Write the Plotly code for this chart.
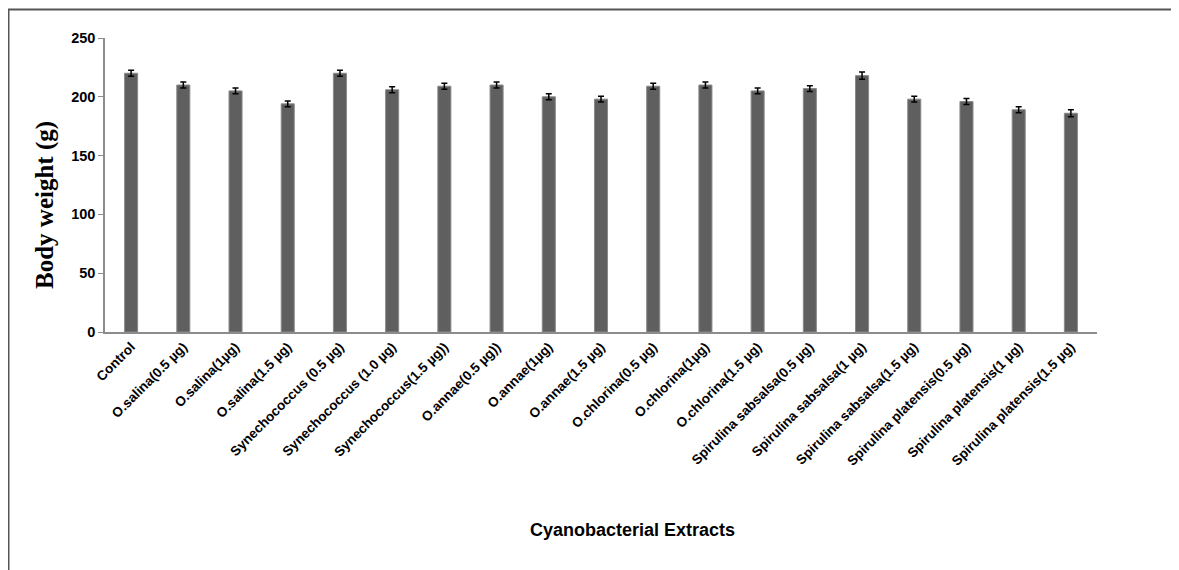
import plotly.graph_objects as go

categories = [
    "Control", "O.salina(0.5 µg)", "O.salina(1µg)", "O.salina(1.5 µg)",
    "Synechococcus (0.5 µg)", "Synechococcus (1.0 µg)", "Synechococcus(1.5 µg))",
    "O.annae(0.5 µg))", "O.annae(1µg)", "O.annae(1.5 µg)",
    "O.chlorina(0.5 µg)", "O.chlorina(1µg)", "O.chlorina(1.5 µg)",
    "Spirulina sabsalsa(0.5 µg)", "Spirulina sabsalsa(1 µg)", "Spirulina sabsalsa(1.5 µg)",
    "Spirulina platensis(0.5 µg)", "Spirulina platensis(1 µg)", "Spirulina platensis(1.5 µg)",
]
body_weight = [220, 210, 205, 194, 220, 206, 209, 210, 200, 198,
               209, 210, 205, 207, 218, 198, 196, 189, 186]
errors = [2.5, 2.5, 2.5, 2.5, 2.5, 2.5, 2.5, 2.5, 2.5, 2.5,
          2.5, 2.5, 2.5, 2.5, 3, 2.5, 2.5, 2.5, 3]
y_ticks = [0, 50, 100, 150, 200, 250]

OFF = 8  # page body margin
W, H = 1179 - OFF, 570 - OFF
# plot area in page pixels: x 105..1097, y 38..332
L, R, T, B = 105 - OFF, 1179 - 1097, 38 - OFF, 570 - 332
pw, ph = W - L - R, H - T - B

def px(x):  # page x -> paper
    return (x - OFF - L) / pw

def py(y):  # page y -> paper
    return (H - B - (y - OFF)) / ph

fig = go.Figure(go.Bar(
    x=categories, y=body_weight,
    marker=dict(color="#5f5f5f", line=dict(color="#8a8a8a", width=1)),
    error_y=dict(type="data", array=errors, visible=True, color="black", thickness=1.5, width=3),
    width=0.25,
))

fig.update_layout(
    width=W, height=H,
    margin=dict(l=L, r=R, t=T, b=B),
    plot_bgcolor="white", paper_bgcolor="white",
    showlegend=False,
    font=dict(family="Liberation Sans, Arial", color="black"),
    xaxis=dict(
        tickangle=-45,
        tickfont=dict(family="Liberation Sans, Arial", size=13.5, color="black", weight="bold"),
        showline=True, linecolor="#8c8c8c", linewidth=1.5,
        ticks="", showgrid=False, automargin=False,
    ),
    yaxis=dict(
        range=[0, 250], tickvals=y_ticks,
        tickfont=dict(family="Liberation Sans, Arial", size=14.5, color="black", weight="bold"),
        showline=True, linecolor="#8c8c8c", linewidth=1.5,
        ticks="outside", ticklen=5, tickcolor="#8c8c8c",
        showgrid=False, zeroline=False, automargin=False,
    ),
    annotations=[
        dict(text="<b>Body weight (g)</b>", x=px(45), y=py(205), xref="paper", yref="paper",
             textangle=-90, showarrow=False, xanchor="center", yanchor="middle",
             font=dict(family="Liberation Serif, Times New Roman", size=25, color="black")),
        dict(text="<b>Cyanobacterial Extracts</b>", x=px(632), y=py(530), xref="paper", yref="paper",
             showarrow=False, xanchor="center", yanchor="middle",
             font=dict(family="Liberation Sans, Arial", size=18, color="black")),
    ],
    shapes=[
        dict(type="path", xref="paper", yref="paper",
             path=f"M {px(8.5)} {py(H + 40)} L {px(8.5)} {py(9.5)} L {px(W + 40)} {py(9.5)}",
             line=dict(color="#555555", width=2)),
    ],
)

fig.write_html("out.html", config={"displayModeBar": False})
